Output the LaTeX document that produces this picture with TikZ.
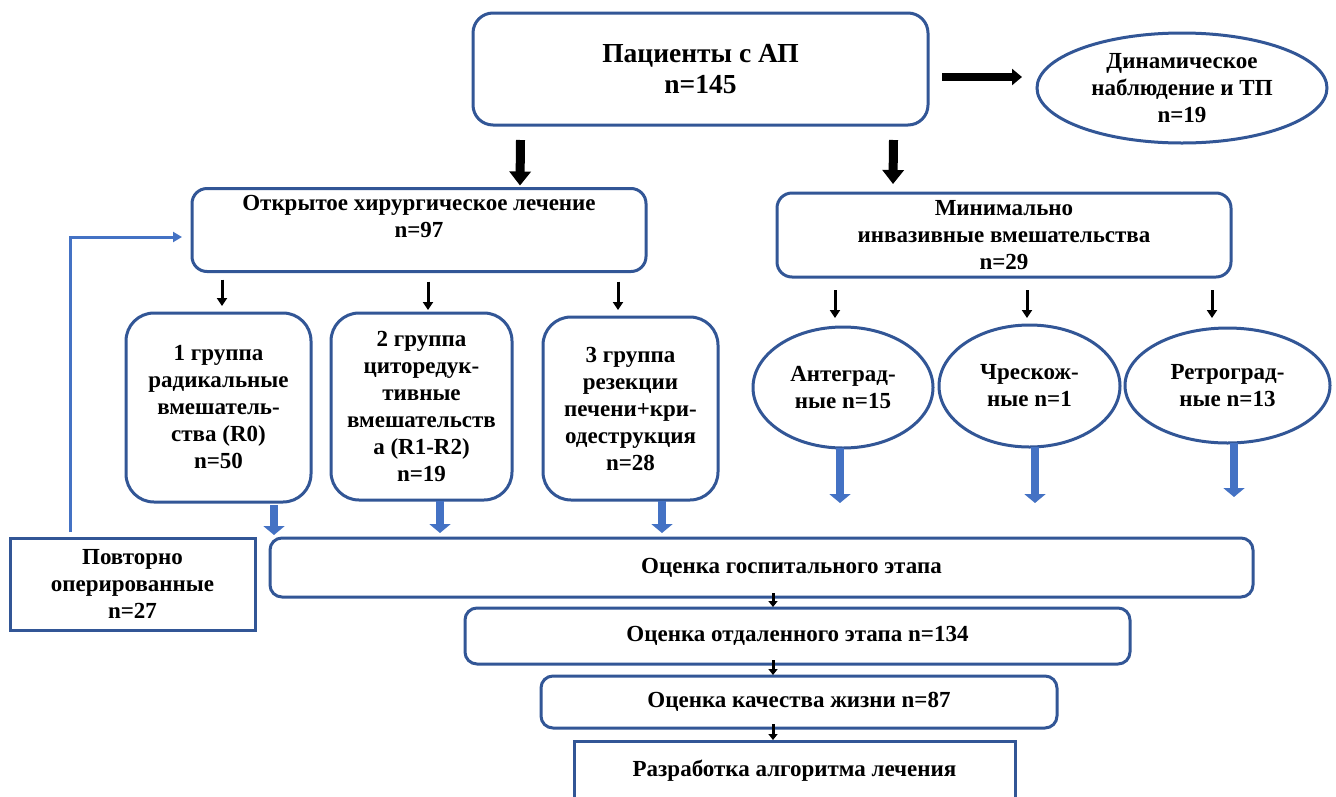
\documentclass[tikz,border=0pt]{standalone}
\usepackage{fontspec}
\setmainfont{Liberation Serif}
\usetikzlibrary{arrows.meta,shapes.geometric}
\definecolor{bord}{RGB}{50,86,150}
\definecolor{barrow}{RGB}{68,114,196}
\tikzset{
  every node/.style={font=\bfseries\fontsize{23}{27}\selectfont, align=center, inner sep=0pt, outer sep=0pt},
  rbox/.style={draw=bord, line width=3pt, rounded corners=#1, fill=white},
  rbox/.default=14pt,
  sbox/.style={draw=bord, line width=3pt, fill=white},
  ell/.style={draw=bord, line width=3pt, ellipse, fill=white},
  bigarrow/.style={line width=9pt, -{Triangle[width=21pt,length=14pt]}},
  sidearrow/.style={line width=8pt, -{Triangle[width=16pt,length=10pt]}},
  smallarrow/.style={line width=3pt, -{Triangle[width=10pt,length=8pt]}},
  tinyarrow/.style={line width=3pt, -{Triangle[width=9pt,length=6pt]}},
  bluearrow/.style={barrow, line width=8pt, -{Triangle[width=21pt,length=9pt]}},
  looparrow/.style={barrow, line width=3pt, -{Triangle[width=10pt,length=9pt]}},
}
\begin{document}
\begin{tikzpicture}[x=1pt,y=-1pt]
\fill[white] (0,0) rectangle (1336,796);
\useasboundingbox (0,0) rectangle (1336,796);

% top
\node[rbox=20pt, minimum width=455pt, minimum height=112pt, font=\bfseries\fontsize{27.5}{31}\selectfont] (pat) at (700.5,69) {Пациенты с АП\\n=145};
\node[ell, minimum width=290pt, minimum height=110pt] (dyn) at (1182,88) {Динамическое\\наблюдение и ТП\\n=19};

% second level
\node[rbox=15pt, minimum width=454pt, minimum height=83pt] (open) at (419,230) {Открытое хирургическое лечение\\n=97\\\mbox{}};
\node[rbox=15pt, minimum width=454pt, minimum height=84pt] (mini) at (1004,235) {Минимально\\инвазивные вмешательства\\n=29};

% groups
\node[rbox=28pt, minimum width=185pt, minimum height=189pt] (g1) at (218.5,407.5) {1 группа\\радикальные\\вмешатель-\\ства (R0)\\n=50};
\node[rbox=28pt, minimum width=181pt, minimum height=187pt] (g2) at (421.5,406.5) {2 группа\\циторедук-\\тивные\\вмешательств\\а (R1-R2)\\n=19};
\node[rbox=28pt, minimum width=175pt, minimum height=183pt] (g3) at (630.5,408.5) {3 группа\\резекции\\печени+кри-\\одеструкция\\n=28};

% ellipses
\node[ell, minimum width=180pt, minimum height=121pt] (ant) at (843,387.5) {Антеград-\\ные n=15};
\node[ell, minimum width=181pt, minimum height=122pt] (chr) at (1029.5,386) {Чрескож-\\ные n=1};
\node[ell, minimum width=205pt, minimum height=115pt] (ret) at (1227.5,385.5) {Ретроград-\\ные n=13};

% bottom
\node[sbox, minimum width=245pt, minimum height=92pt] (rep) at (132.5,584) {Повторно\\оперированные\\n=27};
\node[rbox=12pt, minimum width=983pt, minimum height=59pt] (hosp) at (761.5,567.5) {\hspace*{60pt}Оценка госпитального этапа};
\node[rbox=12pt, minimum width=665pt, minimum height=56pt] (late) at (797.5,636) {Оценка отдаленного этапа n=134};
\node[rbox=12pt, minimum width=516pt, minimum height=52pt] (qol) at (799,702) {Оценка качества жизни n=87};
\node[sbox, minimum width=441pt, minimum height=60pt] (alg) at (794.5,771) {Разработка алгоритма лечения};

% black arrows top
\draw[sidearrow] ([shift={(14pt,-8pt)}]pat.east) -- ([shift={(-15pt,11pt)}]dyn.west);
\draw[bigarrow] ([shift={(-180pt,-15pt)}]pat.south) -- ([shift={(101pt,3pt)}]open.north);
\draw[bigarrow] ([shift={(193pt,-15pt)}]pat.south) -- ([shift={(-111pt,9pt)}]mini.north);

% open -> groups
\draw[smallarrow] ([shift={(-197pt,-8pt)}]open.south) -- ([shift={(3.5pt,7pt)}]g1.north);
\draw[smallarrow] ([shift={(9pt,-10pt)}]open.south) -- ([shift={(6.5pt,3pt)}]g2.north);
\draw[smallarrow] ([shift={(199pt,-10pt)}]open.south) -- ([shift={(-12.5pt,7pt)}]g3.north);

% mini -> ellipses
\draw[smallarrow] ([shift={(-169pt,-13pt)}]mini.south) -- ([shift={(-8pt,9pt)}]ant.north);
\draw[smallarrow] ([shift={(23pt,-13pt)}]mini.south) -- ([shift={(-2.5pt,7pt)}]chr.north);
\draw[smallarrow] ([shift={(208pt,-13pt)}]mini.south) -- ([shift={(-15.5pt,10pt)}]ret.north);

% blue arrows groups -> hosp
\draw[bluearrow] ([shift={(55.5pt,-3pt)}]g1.south) -- ([shift={(-487.5pt,3pt)}]hosp.north);
\draw[bluearrow] ([shift={(18.5pt,-1pt)}]g2.south) -- ([shift={(-321.5pt,5pt)}]hosp.north);
\draw[bluearrow] ([shift={(31.5pt,-1pt)}]g3.south) -- ([shift={(-99.5pt,5pt)}]hosp.north);

% blue arrows ellipses
\draw[bluearrow] ([shift={(-3pt,0pt)}]ant.south) -- ([shift={(78.5pt,35pt)}]hosp.north);
\draw[bluearrow] ([shift={(5.5pt,0pt)}]chr.south) -- ([shift={(273.5pt,35pt)}]hosp.north);
\draw[bluearrow] ([shift={(6.5pt,0pt)}]ret.south) -- ([shift={(472.5pt,41pt)}]hosp.north);

% bottom chain
\draw[tinyarrow] ([shift={(11.5pt,4pt)}]hosp.south) -- ([shift={(-24.5pt,1pt)}]late.north);
\draw[tinyarrow] ([shift={(-24.5pt,4pt)}]late.south) -- ([shift={(-26pt,1pt)}]qol.north);
\draw[tinyarrow] ([shift={(-26pt,4pt)}]qol.south) -- ([shift={(-21.5pt,1pt)}]alg.north);

% loop back
\draw[looparrow] ([shift={(-62.5pt,6pt)}]rep.north) |- ([shift={(-10pt,-7pt)}]open.west);
\end{tikzpicture}
\end{document}
